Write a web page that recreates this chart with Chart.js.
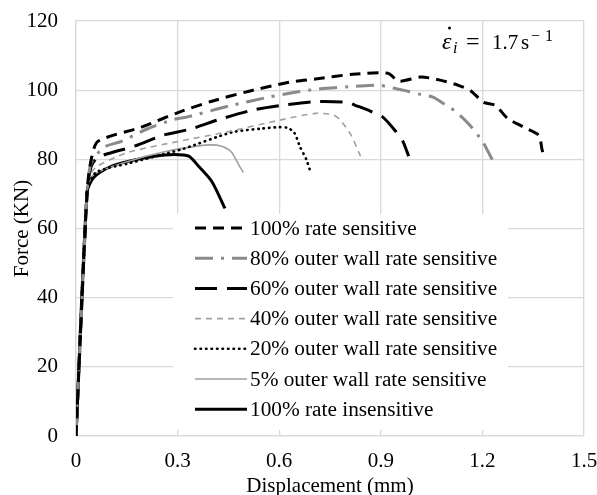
<!DOCTYPE html>
<html lang="en">
<head>
  <meta charset="UTF-8">
  <title>Force vs Displacement</title>
  <script src="https://cdn.jsdelivr.net/npm/chart.js"></script>
  <style>
    html, body { margin: 0; padding: 0; background: #fff; }
    #wrap { width: 597px; height: 495px; }
  </style>
</head>
<body>
  <div id="wrap"><canvas id="forceChart" width="597" height="495"></canvas></div>

  <script>
    // values (displacement mm, force kN)
    const rs100X = [0, 0.033, 0.045, 0.065, 0.193, 0.303, 0.401, 0.511, 0.630, 0.707, 0.817, 0.921, 0.953, 1.019, 1.075, 1.129, 1.167, 1.203, 1.238, 1.274, 1.322, 1.366, 1.376, 1.382];
    const rs100Y = [0, 71, 80, 85.2, 89.3, 93.6, 96.8, 99.7, 102.3, 103.2, 104.6, 104.9, 102.6, 103.8, 102.9, 101.4, 99.7, 96.5, 95.6, 91.9, 89.3, 87.0, 82.9, 80.6];

    const ow80X = [0, 0.033, 0.045, 0.083, 0.134, 0.208, 0.291, 0.327, 0.451, 0.570, 0.647, 0.713, 0.838, 0.897, 0.936, 0.980, 1.016, 1.054, 1.084, 1.120, 1.161, 1.200, 1.218, 1.235];
    const ow80Y = [0, 71, 79, 83.5, 85.2, 88.7, 91.6, 92.2, 95.4, 98.0, 99.4, 100.3, 101.2, 101.4, 100.6, 99.7, 98.8, 98.0, 96.2, 93.9, 90.1, 85.2, 82.0, 78.8];

    const ow60X = [0, 0.033, 0.045, 0.065, 0.172, 0.258, 0.336, 0.425, 0.520, 0.615, 0.707, 0.802, 0.823, 0.870, 0.906, 0.944, 0.965, 0.977, 0.982];
    const ow60Y = [0, 71, 78, 80.6, 83.8, 87.0, 88.7, 91.6, 94.2, 95.7, 96.7, 96.5, 95.7, 93.9, 92.2, 88.1, 85.2, 82.3, 80.9];

    const ow40X = [0, 0.033, 0.045, 0.062, 0.154, 0.303, 0.440, 0.600, 0.707, 0.760, 0.781, 0.811, 0.834, 0.840];
    const ow40Y = [0, 71, 76, 78.0, 82.0, 85.2, 87.8, 91.3, 93.3, 92.8, 91.3, 87.2, 82.3, 80.9];

    const ow20X = [0, 0.033, 0.059, 0.154, 0.312, 0.460, 0.549, 0.600, 0.624, 0.644, 0.662, 0.680, 0.690];
    const ow20Y = [0, 71, 76.2, 78.8, 82.9, 87.8, 88.9, 89.3, 89.1, 87.8, 83.5, 80.0, 77.1];

    const ow5X = [0, 0.033, 0.053, 0.154, 0.252, 0.380, 0.431, 0.460, 0.481, 0.494];
    const ow5Y = [0, 71, 75.7, 79.4, 82.0, 84.1, 83.8, 82.0, 78.3, 76.2];

    const ri100X = [0, 0.033, 0.053, 0.104, 0.154, 0.232, 0.291, 0.333, 0.362, 0.401, 0.440];
    const ri100Y = [0, 70.7, 74.8, 78.0, 79.4, 80.9, 81.4, 80.9, 78.0, 73.6, 65.8];

    const xTicks = [0, 0.3, 0.6, 0.9, 1.2, 1.5];
    const yTicks = [0, 20, 40, 60, 80, 100, 120];

    const serif = '"Liberation Serif", "Times New Roman", serif';

    function pairs(xs, ys) {
      return xs.map((x, i) => ({ x: x, y: ys[i] }));
    }

    const datasets = [
      { label: '100% rate sensitive', data: pairs(rs100X, rs100Y), borderColor: '#000', borderWidth: 3, borderDash: [11, 7] },
      { label: '80% outer wall rate sensitive', data: pairs(ow80X, ow80Y), borderColor: '#8a8a8a', borderWidth: 3, borderDash: [18, 8, 3, 8] },
      { label: '60% outer wall rate sensitive', data: pairs(ow60X, ow60Y), borderColor: '#000', borderWidth: 3, borderDash: [22, 10] },
      { label: '40% outer wall rate sensitive', data: pairs(ow40X, ow40Y), borderColor: '#a0a0a0', borderWidth: 1.6, borderDash: [6, 5] },
      { label: '20% outer wall rate sensitive', data: pairs(ow20X, ow20Y), borderColor: '#000', borderWidth: 2.6, borderDash: [0.5, 5], borderCapStyle: 'round' },
      { label: '5% outer wall rate sensitive', data: pairs(ow5X, ow5Y), borderColor: '#a0a0a0', borderWidth: 1.6, borderDash: [] },
      { label: '100% rate insensitive', data: pairs(ri100X, ri100Y), borderColor: '#000', borderWidth: 3, borderDash: [] }
    ].map(d => Object.assign({ showLine: true, pointRadius: 0, tension: 0.25, fill: false, borderCapStyle: 'butt' }, d));

    // legend box inside plot, drawn over the grid
    const boxLegend = {
      id: 'boxLegend',
      afterDraw(chart) {
        const ctx = chart.ctx;
        ctx.save();
        ctx.fillStyle = '#fff';
        ctx.fillRect(173, 214, 335, 216);
        ctx.font = '21.3px ' + serif;
        ctx.textBaseline = 'middle';
        ctx.fillStyle = '#000';
        chart.data.datasets.forEach((ds, i) => {
          const y = 228 + i * 30.2;
          ctx.beginPath();
          ctx.strokeStyle = ds.borderColor;
          ctx.lineWidth = ds.borderWidth;
          ctx.lineCap = ds.borderCapStyle;
          ctx.setLineDash(ds.borderDash);
          ctx.moveTo(195, y);
          ctx.lineTo(247, y);
          ctx.stroke();
          ctx.setLineDash([]);
          ctx.fillText(ds.label, 250, y + 1);
        });
        ctx.restore();
      }
    };

    // rate label, top right
    const rateLabel = {
      id: 'rateLabel',
      afterDraw(chart) {
        const ctx = chart.ctx;
        ctx.save();
        ctx.fillStyle = '#000';
        ctx.textBaseline = 'alphabetic';
        const base = 49;
        ctx.font = 'italic 24px ' + serif;
        ctx.fillText('\u03b5', 442, base);
        ctx.beginPath();
        ctx.arc(449.5, base - 21, 1.5, 0, Math.PI * 2);
        ctx.fill();
        ctx.font = 'italic 16px ' + serif;
        ctx.fillText('i', 453, base + 4);
        ctx.font = '24px ' + serif;
        ctx.fillText('=', 466, base);
        ctx.font = '21px ' + serif;
        ctx.fillText('1.7', 492, base);
        ctx.fillText('s', 521, base);
        ctx.font = '16px ' + serif;
        ctx.fillText('\u2212', 531, base - 8);
        ctx.fillText('1', 545, base - 8);
        ctx.restore();
      }
    };

    new Chart(document.getElementById('forceChart'), {
      type: 'scatter',
      data: { datasets: datasets },
      options: {
        responsive: false,
        animation: false,
        layout: { padding: { top: 21, right: 13, left: 10, bottom: 0 } },
        plugins: { legend: { display: false }, tooltip: { enabled: false } },
        scales: {
          x: {
            type: 'linear',
            min: 0,
            max: 1.5,
            afterBuildTicks: s => { s.ticks = xTicks.map(v => ({ value: v })); },
            afterFit: s => { s.height = 59; s.paddingLeft = 0; s.paddingRight = 0; },
            grid: { color: '#d9d9d9', lineWidth: 1.3, drawTicks: false },
            border: { color: '#d9d9d9', width: 1.3 },
            ticks: { color: '#000', font: { family: serif, size: 21 }, padding: 13, maxRotation: 0, callback: v => String(v) },
            title: { display: true, text: 'Displacement (mm)', color: '#000', font: { family: serif, size: 21 }, padding: { top: 0, bottom: -4 } }
          },
          y: {
            min: 0,
            max: 120,
            afterBuildTicks: s => { s.ticks = yTicks.map(v => ({ value: v })); },
            afterFit: s => { s.width = 66; s.paddingTop = 0; s.paddingBottom = 0; },
            grid: { color: '#d9d9d9', lineWidth: 1.3, drawTicks: false },
            border: { color: '#d9d9d9', width: 1.3 },
            ticks: { color: '#000', font: { family: serif, size: 21 }, padding: 18 },
            title: { display: true, text: 'Force (KN)', color: '#000', font: { family: serif, size: 21 }, padding: { top: 0, bottom: 0 } }
          }
        }
      },
      plugins: [boxLegend, rateLabel]
    });
  </script>
</body>
</html>
